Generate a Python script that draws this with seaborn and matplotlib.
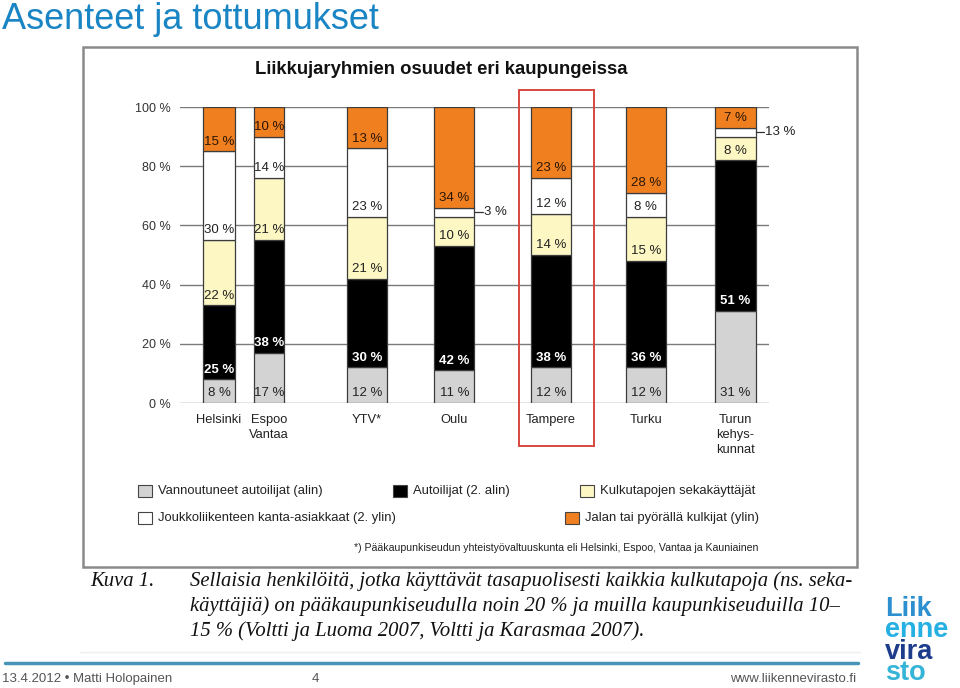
import matplotlib
matplotlib.use("Agg")
import matplotlib.pyplot as plt
from matplotlib.patches import Rectangle
from matplotlib.lines import Line2D
import seaborn as sns

# --- data (shares in %, stacked bottom -> top) ---
cities = ["Helsinki", "Espoo\nVantaa", "YTV*", "Oulu", "Tampere", "Turku", "Turun\nkehys-\nkunnat"]
committed_drivers = [8, 17, 12, 11, 12, 12, 31]
drivers = [25, 38, 30, 42, 38, 36, 51]
mixed_users = [22, 21, 21, 10, 14, 15, 8]
transit_regulars = [30, 14, 23, 3, 12, 8, 3]
walk_bike = [15, 10, 13, 34, 23, 28, 7]
y_ticks = [0, 20, 40, 60, 80, 100]

group_names = [
    "Vannoutuneet autoilijat (alin)",
    "Autoilijat (2. alin)",
    "Kulkutapojen sekakäyttäjät",
    "Joukkoliikenteen kanta-asiakkaat (2. ylin)",
    "Jalan tai pyörällä kulkijat (ylin)",
]
# labels printed outside the bar (small segments), text as in the source
outside_labels = {(3, 3): "3 %", (3, 6): "13 %"}

# --- layout / style ---
x_pos = [0.0, 0.54, 1.59, 2.53, 3.57, 4.59, 5.55]
bar_w = [0.34, 0.32, 0.43, 0.43, 0.44, 0.43, 0.44]
colors = ["#d3d3d3", "#000000", "#fdf7c4", "#ffffff", "#f0801f"]
text_colors = ["#222222", "#ffffff", "#222222", "#222222", "#2a1505"]

sns.set_theme(style="white")
plt.rcParams["font.family"] = ["Liberation Sans", "DejaVu Sans"]

W, H = 960, 688
fig = plt.figure(figsize=(9.6, 6.88), dpi=100)
fig.patch.set_facecolor("white")


def fx(x):
    return x / W


def fy(y):
    return 1 - y / H


# slide title
fig.text(fx(2), fy(29), "Asenteet ja tottumukset", fontsize=26,
         color="#1a85c4", va="baseline", ha="left")

# chart frame
fig.patches.append(Rectangle((fx(83), fy(567)), fx(857) - fx(83), fy(47) - fy(567),
                             transform=fig.transFigure, fill=False,
                             edgecolor="#8a8a8a", lw=1.8))
fig.text(fx(441), fy(70), "Liikkujaryhmien osuudet eri kaupungeissa",
         fontsize=13.3, fontweight="bold", color="#111111", ha="center", va="center")

# chart axes
ax = fig.add_axes([fx(180), fy(403), fx(769) - fx(180), fy(107) - fy(403)])
ax.set_facecolor("none")
ax.set_xlim(-0.42, 5.914)
ax.set_ylim(0, 100)
ax.set_axisbelow(True)
ax.yaxis.grid(True, color="#7a7a7a", lw=1)
ax.xaxis.grid(False)
for s in ax.spines.values():
    s.set_visible(False)
ax.set_yticks(y_ticks, labels=[f"{t} %" for t in y_ticks])
ax.set_xticks(x_pos, labels=cities)
ax.tick_params(axis="y", length=0, pad=7, labelsize=9, labelcolor="#333333")
ax.tick_params(axis="x", length=0, pad=8, labelsize=9.3, labelcolor="#222222")
for lab in ax.get_xticklabels():
    lab.set_linespacing(1.35)

layers = [committed_drivers, drivers, mixed_users, transit_regulars, walk_bike]
bottom = [0] * len(cities)
for k, vals in enumerate(layers):
    # top layer fills the column up to 100 %
    heights = [100 - b for b in bottom] if k == len(layers) - 1 else vals
    ax.bar(x_pos, heights, width=bar_w, bottom=bottom, color=colors[k],
           edgecolor="#3c3c3c", lw=0.9, zorder=2)
    for i, v in enumerate(vals):
        if (k, i) in outside_labels:
            yc = bottom[i] + heights[i] / 2
            x0 = x_pos[i] + bar_w[i] / 2
            ax.plot([x0, x0 + 0.09], [yc, yc], color="#333333", lw=0.9,
                    clip_on=False, zorder=3)
            ax.text(x0 + 0.1, yc, outside_labels[(k, i)], fontsize=9.5,
                    color="#222222", ha="left", va="center", zorder=3)
        else:
            ax.text(x_pos[i], bottom[i] + 3.3, f"{v} %", fontsize=9.5,
                    fontweight="bold" if k == 1 else "normal",
                    color=text_colors[k], ha="center", va="center", zorder=3)
    bottom = [b + h for b, h in zip(bottom, heights)]

# highlight box around Tampere
fig.patches.append(Rectangle((fx(519), fy(446)), fx(594) - fx(519), fy(90) - fy(446),
                             transform=fig.transFigure, fill=False,
                             edgecolor="#d8473d", lw=1.4))

# legend (manual, irregular layout as in the source)
legend_spots = [(138, 491), (393, 491), (580, 491), (138, 518), (565, 518)]
for k, (lx, ly) in enumerate(legend_spots):
    fig.patches.append(Rectangle((fx(lx), fy(ly + 6)), fx(14), 12 / H,
                                 transform=fig.transFigure, facecolor=colors[k],
                                 edgecolor="#444444", lw=0.8))
    fig.text(fx(lx + 20), fy(ly), group_names[k], fontsize=9.4,
             color="#222222", ha="left", va="center")

fig.text(fx(758), fy(548),
         "*) Pääkaupunkiseudun yhteistyövaltuuskunta eli Helsinki, Espoo, Vantaa ja Kauniainen",
         fontsize=7.6, color="#222222", ha="right", va="center")

# caption
cap_kw = dict(family="Liberation Serif", style="italic", fontsize=14.9,
              color="#111111", ha="left", va="center")
fig.text(fx(90), fy(581), "Kuva 1.", **cap_kw)
caption = [
    "Sellaisia henkilöitä, jotka käyttävät tasapuolisesti kaikkia kulkutapoja (ns. seka-",
    "käyttäjiä) on pääkaupunkiseudulla noin 20 % ja muilla kaupunkiseuduilla 10–",
    "15 % (Voltti ja Luoma 2007, Voltti ja Karasmaa 2007).",
]
for j, line in enumerate(caption):
    fig.text(fx(190), fy(581 + 25 * j), line, **cap_kw)

# footer
fig.lines.append(Line2D([fx(80), fx(860)], [fy(652), fy(652)], transform=fig.transFigure,
                        color="#eeeeee", lw=1))
fig.lines.append(Line2D([fx(5), fx(858)], [fy(663), fy(663)], transform=fig.transFigure,
                        color="#4796b8", lw=2.5))
foot_kw = dict(fontsize=9.5, color="#555555", va="center")
fig.text(fx(2), fy(679), "13.4.2012 • Matti Holopainen", ha="left", **foot_kw)
fig.text(fx(315), fy(679), "4", ha="center", **foot_kw)
fig.text(fx(856), fy(679), "www.liikennevirasto.fi", ha="right", **foot_kw)

# logo
logo = [("Liik", "#2b8fd0", 616), ("enne", "#25b0e4", 637), ("vira", "#1d3c8c", 659),
        ("sto", "#35b4d8", 680)]
for word, col, base in logo:
    fig.text(fx(885), fy(base), word, fontweight="bold",
             fontsize=19.5, color=col, ha="left", va="baseline")

fig.savefig("out.png", dpi=100)
